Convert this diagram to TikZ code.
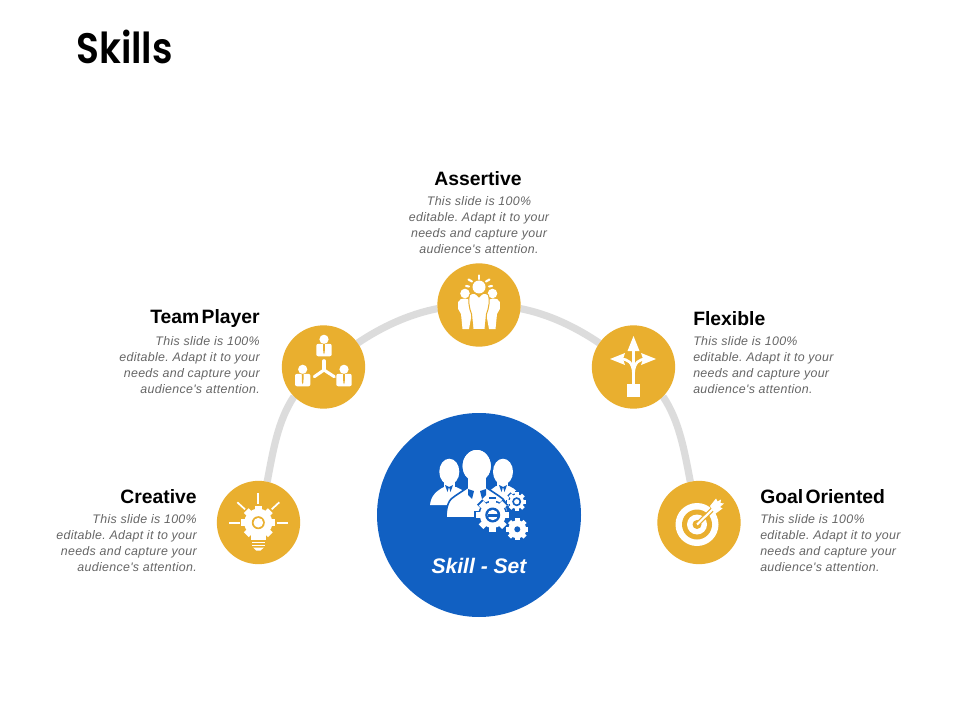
\documentclass[tikz,border=0pt]{standalone}
\usepackage{fontspec}
\setmainfont{Liberation Sans}
\newfontfamily\titlefont[FakeStretch=0.88]{Poppins SemiBold}
\newfontfamily\descfont[LetterSpace=2.5]{Liberation Sans}
\usetikzlibrary{backgrounds}
\definecolor{gold}{HTML}{E9AF2F}
\definecolor{royal}{HTML}{1160C2}
\definecolor{track}{HTML}{DCDCDC}
\definecolor{bodytxt}{HTML}{666666}
\tikzset{
  skill/.style={circle,fill=gold,minimum size=62.5pt,inner sep=0pt,outer sep=0pt},
  hub/.style={circle,fill=royal,minimum size=153pt,inner sep=0pt,outer sep=0pt},
  head/.style={font=\fontsize{14.5}{18}\selectfont\bfseries,inner sep=0pt,text=black},
  desc/.style={font=\descfont\fontsize{9.3}{12}\selectfont\itshape\frenchspacing,text=bodytxt,inner sep=0pt},
  link/.style={draw=track,line width=5.4pt,looseness=0.85},
  wl/.style={draw=white,line cap=round},
}
% #1,#2 centre; #3 body radius; #4 tooth radius; #5 teeth; #6 colour
\newcommand{\mygear}[6]{%
  \fill[#6] (#1,#2) circle (#3);
  \foreach \i in {1,...,#5}{%
    \fill[#6,shift={(#1,#2)},rotate=\i*360/#5] (-#4*0.2,0) rectangle (#4*0.2,#4);
  }%
}
\begin{document}
\begin{tikzpicture}[x=0.75pt,y=-0.75pt]
\useasboundingbox (0,0) rectangle (960,720);
\begin{scope}[on background layer]
\fill[white] (0,0) rectangle (960,720);
\end{scope}

\node[anchor=base west,inner sep=0pt,font=\fontsize{32}{36}\selectfont\titlefont] (title) at (76,64) {Skills};

% nodes
\node[hub] (hub) at (479,515) {};
\node[skill] (creative) at (258.5,522.5) {};
\node[skill] (team) at (323.5,367) {};
\node[skill] (assertive) at (479,305) {};
\node[skill] (flexible) at (633.5,367) {};
\node[skill] (goal) at (699,522.5) {};

\begin{scope}[on background layer]
  \draw[link] (creative.78) to[out=79,in=236] (team.225);
  \draw[link] (team.35) to[out=34,in=191] (assertive.185);
  \draw[link] (assertive.-5) to[out=-11,in=146] (flexible.145);
  \draw[link] (flexible.-45) to[out=-56,in=101] (goal.102);
\end{scope}

% labels
\node[head,anchor=center] (h1) at (478,178.5) {Assertive};
\node[desc,align=center,anchor=center] (d1) at (479,225) {This slide is 100\%\\editable. Adapt it to your\\needs and capture your\\audience's attention.};
\node[head,anchor=east] (h2) at (260,318.5) {Team\hspace{0.12em}Player};
\node[desc,align=right,anchor=east] (d2) at (260,365) {This slide is 100\%\\editable. Adapt it to your\\needs and capture your\\audience's attention.};
\node[head,anchor=west] (h3) at (693,318.5) {Flexible};
\node[desc,align=left,anchor=west] (d3) at (693,365) {This slide is 100\%\\editable. Adapt it to your\\needs and capture your\\audience's attention.};
\node[head,anchor=east] (h4) at (197,496.5) {Creative};
\node[desc,align=right,anchor=east] (d4) at (197,543) {This slide is 100\%\\editable. Adapt it to your\\needs and capture your\\audience's attention.};
\node[head,anchor=west] (h5) at (760,496.5) {Goal\hspace{0.12em}Oriented};
\node[desc,align=left,anchor=west] (d5) at (760,543) {This slide is 100\%\\editable. Adapt it to your\\needs and capture your\\audience's attention.};
\node[anchor=center,inner sep=0pt,text=white,font=\fontsize{15.8}{18}\selectfont\bfseries\itshape] (hubtext) at (479,566) {Skill - Set};

% hub icon: people
\fill[white] (449.3,471.7) ellipse (10 and 13);
\fill[white] (444,480) rectangle (455,490);
\fill[white] (430,505) .. controls (431,496) and (436,491) .. (444,487) -- (456,487) -- (472,495) -- (458,505) -- cycle;
\fill[white] (503,471.7) ellipse (10 and 13);
\fill[white] (497,480) rectangle (508,490);
\fill[white] (496,486) -- (509,486) .. controls (516,489) and (521,494) .. (522,503) -- (495,508) -- (484,495) -- cycle;
\draw[royal,line width=1.2pt,fill=white] (476.7,466) ellipse (15 and 17);
\draw[royal,line width=1.2pt,fill=white] (446,518) .. controls (446,506) and (449,499) .. (455,496) -- (467,488) -- (467,476) -- (487,476) -- (487,488) -- (499,496) .. controls (505,499) and (508,506) .. (508,518) -- cycle;
\fill[white] (476.7,466) ellipse (14 and 16);
\fill[white] (468,470) rectangle (486,490);
\fill[royal] (468,489) -- (474,491) -- (472,499) -- (468,495) -- cycle;
\fill[royal] (486,489) -- (480,491) -- (482,499) -- (486,495) -- cycle;
\fill[royal] (445,485) -- (449,487) -- (447.5,492) -- cycle;
\fill[royal] (453,485) -- (449,487) -- (450.5,492) -- cycle;
\fill[royal] (499,485) -- (503,487) -- (501.5,492) -- cycle;
\fill[royal] (507,485) -- (503,487) -- (504.5,492) -- cycle;
% hub icon: gears
\mygear{492.7}{515}{14.5}{18.5}{8}{royal}
\mygear{492.7}{515}{13}{16.5}{8}{white}
\fill[royal] (492.7,515) circle (7.5);
\fill[white] (492.7,515) circle (5.2);
\fill[royal] (487.5,514) rectangle (498,516.5);
\mygear{516.7}{501.7}{8.5}{11}{8}{royal}
\mygear{516.7}{501.7}{7.2}{9.5}{8}{white}
\fill[royal] (516.7,501.7) circle (4.5);
\fill[white] (516.7,501.7) circle (2.6);
\mygear{517.3}{529.3}{9}{11}{8}{white}
\fill[royal] (517.3,529.3) circle (3);

% assertive icon
\fill[white] (479,287) circle (6.5);
\foreach \a/\b/\c/\d in {479/275.5/479/279, 468.5/279.5/472/281.5, 489.5/279.5/486/281.5, 466/286/469/286.5, 492/286/489/286.5}{
  \draw[wl,line width=1.6pt] (\a,\b) -- (\c,\d);
}
\fill[white] (465,293.5) circle (4.8);
\fill[white] (492.5,293.5) circle (4.8);
\fill[white] (458.2,302) .. controls (459,299) and (462,298.5) .. (465,298.5) .. controls (468,298.5) and (471,300) .. (471,303) -- (471,318) -- (469,329) -- (462.5,329) -- (461,314) -- (458.2,309) -- cycle;
\fill[white] (499.8,302) .. controls (499,299) and (496,298.5) .. (493,298.5) .. controls (490,298.5) and (487,300) .. (487,303) -- (487,318) -- (489,329) -- (495.5,329) -- (497,314) -- (499.8,309) -- cycle;
\draw[gold,line width=0.75pt,fill=white] (469.5,295) .. controls (473,292) and (476,293) .. (479,297) .. controls (482,293) and (485,292) .. (488.5,295) .. controls (490,300) and (489,308) .. (486.5,314) -- (485,329.5) -- (473,329.5) -- (471.5,314) .. controls (469,308) and (468,300) .. (469.5,295) -- cycle;

% team icon
\foreach \x/\y in {324/339.3, 302.7/369.3, 344/369.3}{
  \fill[white] (\x,\y) circle (4.6);
  \fill[white,rounded corners=1.5pt] (\x-7.7,\y+4.5) rectangle (\x+7.7,\y+17);
  \fill[gold] (\x-1,\y+4.5) -- (\x+1,\y+4.5) -- (\x+0.7,\y+13) -- (\x,\y+15) -- (\x-0.7,\y+13) -- cycle;
}
\coordinate (tc) at (324,370);
\draw[wl,line width=2.3pt] (tc) -- (324,360.7);
\draw[wl,line width=2.3pt] (tc) -- (314.3,376.7);
\draw[wl,line width=2.3pt] (tc) -- (334.3,376.7);

% flexible icon
\fill[white] (626.7,384.3) rectangle (640,397.3);
\draw[white,line width=2.3pt] (633.5,384.5) -- (633.5,348);
\fill[white] (633.5,336) -- (639.5,351) -- (627.5,351) -- cycle;
\draw[white,line width=2pt] (633.5,374) .. controls (633,362) and (628,359) .. (620,359);
\draw[white,line width=2pt] (633.5,374) .. controls (634,362) and (639,359) .. (647,359);
\fill[white] (610,359) -- (625,353) -- (623,359) -- (625,365) -- cycle;
\fill[white] (656,359) -- (641,353) -- (643,359) -- (641,365) -- cycle;

% creative icon
\foreach \a/\b/\c/\d in {258.3/493.3/258.3/504.3, 229.3/522.7/240/522.7, 276.7/522.7/287.7/522.7, 237.3/502.3/245/509.3, 279.3/502.3/271.7/509.3}{
  \draw[white,line width=1.3pt] (\a,\b) -- (\c,\d);
}
\mygear{258.3}{522.7}{14}{17}{8}{white}
\fill[gold] (258.3,522.7) circle (6.5);
\fill[white] (258.3,522.7) circle (4.8);
\fill[white] (251,534) rectangle (265.5,540);
\fill[white] (252,541.5) rectangle (265,543.2);
\fill[white] (252,544.6) rectangle (265,546.2);
\fill[white] (253,547.5) -- (264,547.5) -- (260.5,550.5) -- (256,550.5) -- cycle;

% goal icon
\fill[white] (697,524.5) circle (21.5);
\fill[gold] (697,524.5) circle (15);
\fill[white] (697,524.5) circle (10);
\fill[gold] (697,524.5) circle (4.5);
\draw[gold,line width=3.4pt] (697,524.5) -- (714,508);
\draw[white,line width=1.6pt] (697,524.5) -- (714,508);
\fill[white] (710,506) -- (716,498.5) -- (717.5,501.5) -- (721,499.5) -- (720.5,503) -- (724,503.5) -- (720,507) -- (722.5,508.5) -- (715,514) -- cycle;
\end{tikzpicture}
\end{document}
